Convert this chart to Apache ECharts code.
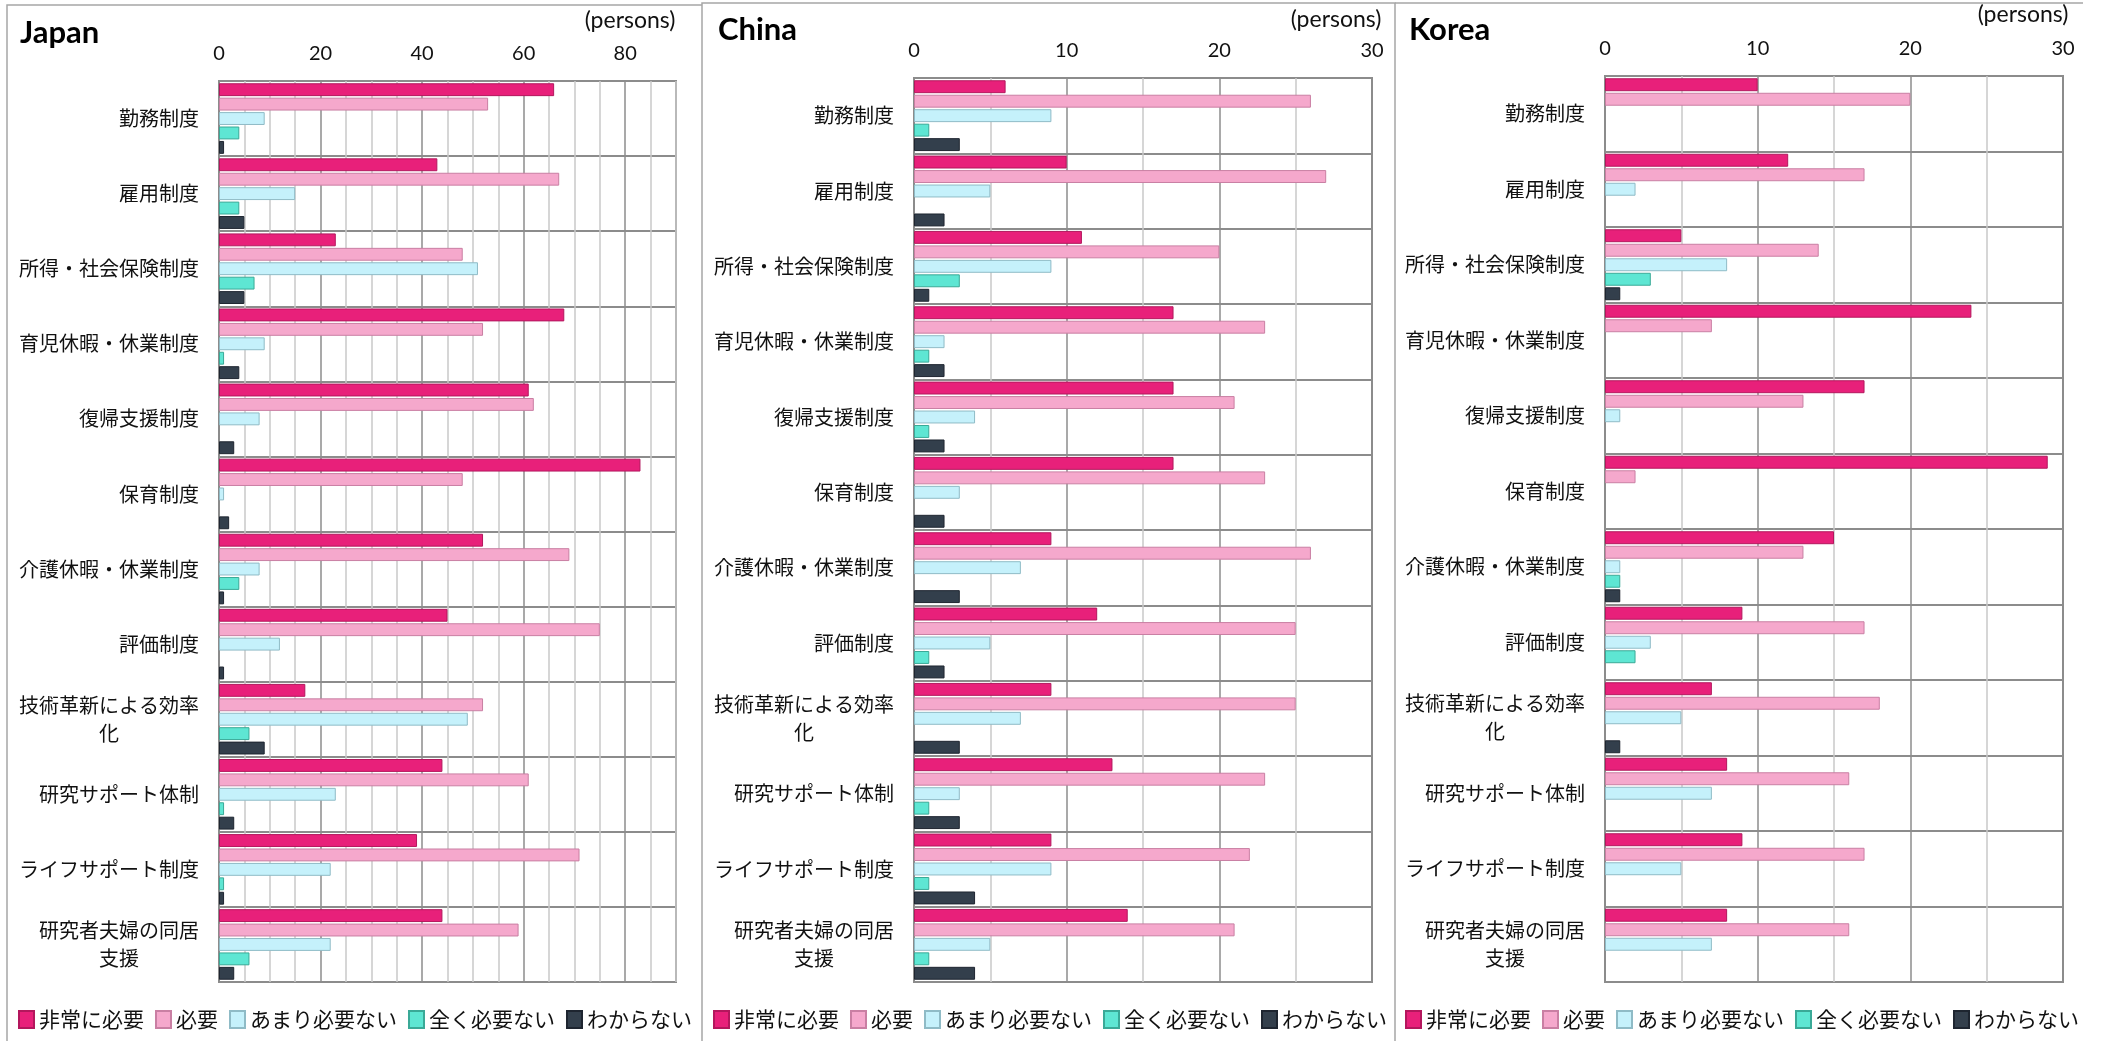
<!DOCTYPE html>
<html><head><meta charset="utf-8">
<script src="https://cdn.jsdelivr.net/npm/echarts@6/dist/echarts.min.js"></script>
<style>html,body{margin:0;padding:0;background:#fff}#c{width:2107px;height:1041px}</style>
</head><body><div id="c"></div>
<script>
// ---------- data ----------
const categories = ['勤務制度','雇用制度','所得・社会保険制度','育児休暇・休業制度','復帰支援制度','保育制度','介護休暇・休業制度','評価制度','技術革新による効率\n化','研究サポート体制','ライフサポート制度','研究者夫婦の同居\n支援'];
const seriesNames = ['非常に必要','必要','あまり必要ない','全く必要ない','わからない'];
const panelTitles = ['Japan','China','Korea'];
const unitLabel = '(persons)';

const japanVeryNeeded   = [66,43,23,68,61,83,52,45,17,44,39,44];
const japanNeeded       = [53,67,48,52,62,48,69,75,52,61,71,59];
const japanNotMuch      = [9,15,51,9,8,1,8,12,49,23,22,22];
const japanNotAtAll     = [4,4,7,1,0,0,4,0,6,1,1,6];
const japanDontKnow     = [1,5,5,4,3,2,1,1,9,3,1,3];

const chinaVeryNeeded   = [6,10,11,17,17,17,9,12,9,13,9,14];
const chinaNeeded       = [26,27,20,23,21,23,26,25,25,23,22,21];
const chinaNotMuch      = [9,5,9,2,4,3,7,5,7,3,9,5];
const chinaNotAtAll     = [1,0,3,1,1,0,0,1,0,1,1,1];
const chinaDontKnow     = [3,2,1,2,2,2,3,2,3,3,4,4];

const koreaVeryNeeded   = [10,12,5,24,17,29,15,9,7,8,9,8];
const koreaNeeded       = [20,17,14,7,13,2,13,17,18,16,17,16];
const koreaNotMuch      = [0,2,8,0,1,0,1,3,5,7,5,7];
const koreaNotAtAll     = [0,0,3,0,0,0,1,2,0,0,0,0];
const koreaDontKnow     = [0,0,1,0,0,0,1,0,1,0,0,0];

const japanTicks = [0,20,40,60,80];
const chinaTicks = [0,10,20,30];
const koreaTicks = [0,10,20,30];

// ---------- styles ----------
const fills   = ['#E8207A','#F5A8CC','#C5F1FB','#5EE6D3','#333F4C'];
const borders = ['#B3175D','#C97FA3','#8FBBC6','#3AA997','#1E2530'];
const CJK = '"Noto Sans CJK JP","Noto Sans",sans-serif';
const LAT = 'Lato,"Open Sans",sans-serif';
const FS = 20;

const panels = [
  {data:[japanVeryNeeded,japanNeeded,japanNotMuch,japanNotAtAll,japanDontKnow], ticks:japanTicks, max:90, grid:{left:219,top:81,width:457,height:901}, dark:4,
   title:[20,37], unit:[630,21], legend:18},
  {data:[chinaVeryNeeded,chinaNeeded,chinaNotMuch,chinaNotAtAll,chinaDontKnow], ticks:chinaTicks, max:30, grid:{left:914,top:78,width:458,height:904}, dark:2,
   title:[718,34], unit:[1336,20], legend:713},
  {data:[koreaVeryNeeded,koreaNeeded,koreaNotMuch,koreaNotAtAll,koreaDontKnow], ticks:koreaTicks, max:30, grid:{left:1605,top:76,width:458,height:906}, dark:2,
   title:[1409,34], unit:[2023,15], legend:1405}
];

const richStyles = {};
for (let n = 1; n <= 12; n++) richStyles['w'+n] = {width:n*FS, align:'center', fontSize:FS, fontFamily:CJK, color:'#111', lineHeight:28};

function catLabel(v) {
  if (v.indexOf('\n') < 0) return v;
  const lines = v.split('\n');
  const n = Math.max.apply(null, lines.map(l => l.length));
  return lines.map(l => '{w'+n+'|'+l+'}').join('\n');
}

const grids = [], xAxes = [], yAxes = [], series = [], legends = [], graphics = [];
panels.forEach((p, pi) => {
  grids.push(Object.assign({show:true, borderColor:'#8c8c8c', borderWidth:2, backgroundColor:'transparent'}, p.grid));
  const darkCols = []; for (let k=0;k<p.dark;k++) darkCols.push(k===0?'#8c8c8c':'#c8c8c8');
  xAxes.push({type:'value', gridIndex:pi, position:'top', min:0, max:p.max, interval:5,
    axisLine:{show:false}, axisTick:{show:false},
    axisLabel:{margin:17, fontFamily:LAT, fontSize:20, color:'#111', showMaxLabel:true,
      formatter: v => p.ticks.indexOf(v) >= 0 ? String(v) : ''},
    splitLine:{show:true, lineStyle:{color:darkCols, width:1.5}}});
  yAxes.push({type:'category', gridIndex:pi, data:categories, inverse:true,
    axisLine:{show:false}, axisTick:{show:false},
    axisLabel:{margin:20, fontFamily:CJK, fontSize:FS, color:'#111', lineHeight:28, formatter:catLabel, rich:richStyles},
    splitLine:{show:true, lineStyle:{color:'#8c8c8c', width:2}}});
  p.data.forEach((d, si) => {
    series.push({type:'bar', name:seriesNames[si], xAxisIndex:pi, yAxisIndex:pi,
      data:d.map(v => v === 0 ? '-' : v),
      barGap:'12%', barCategoryGap:'6%', animation:false,
      itemStyle:{color:fills[si], borderColor:borders[si], borderWidth:1}});
  });
  legends.push({data:seriesNames, left:p.legend, top:1009, padding:0, icon:'rect', itemWidth:15, itemHeight:17, itemGap:11,
    textStyle:{fontFamily:CJK, fontSize:21, color:'#111'}, selectedMode:false});
  graphics.push({type:'text', left:p.title[0], top:p.title[1]-20, style:{text:panelTitles[pi], font:'bold 31px '+LAT, fill:'#000'}});
  graphics.push({type:'text', x:p.unit[0], y:p.unit[1], style:{text:unitLabel, font:'23px '+LAT, fill:'#111', textAlign:'center', textVerticalAlign:'middle'}});
});
// panel frames
graphics.push({type:'polyline', shape:{points:[[7,1041],[7,5],[702,5]]}, style:{stroke:'#a6a6a6', lineWidth:1.5, fill:null}});
graphics.push({type:'polyline', shape:{points:[[702,1041],[702,3],[1395,3],[1395,1041]]}, style:{stroke:'#a6a6a6', lineWidth:1.5, fill:null}});
graphics.push({type:'polyline', shape:{points:[[1395,3],[2083,3]]}, style:{stroke:'#a6a6a6', lineWidth:1.5, fill:null}});

const chart = echarts.init(document.getElementById('c'), null, {renderer:'canvas'});
chart.setOption({
  animation:false, backgroundColor:'#fff',
  grid:grids, xAxis:xAxes, yAxis:yAxes, series:series, legend:legends, graphic:graphics,
  tooltip:{show:false}
});
</script></body></html>
